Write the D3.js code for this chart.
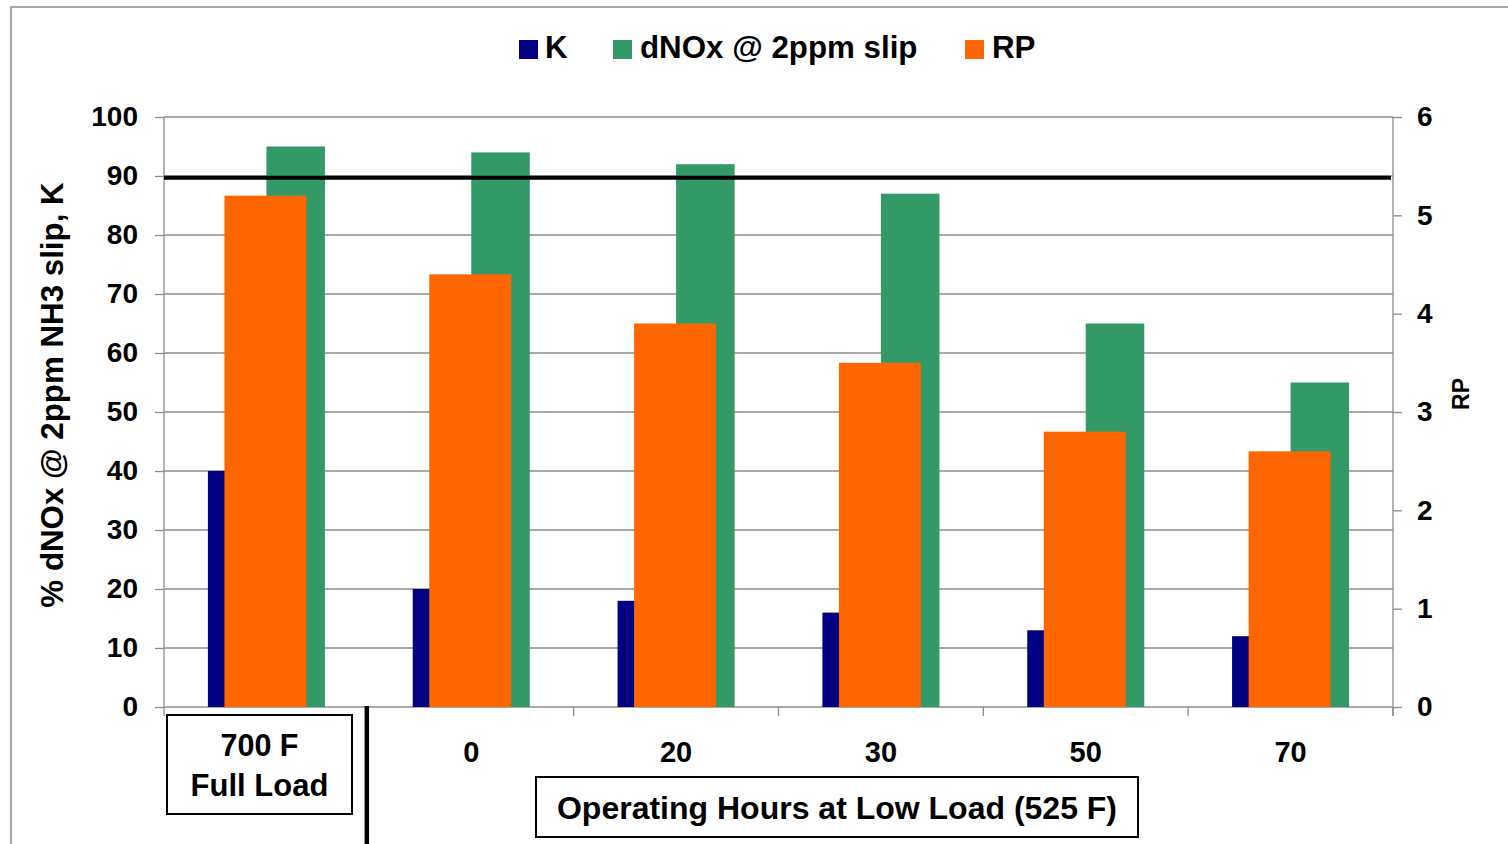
<!DOCTYPE html>
<html>
<head>
<meta charset="utf-8">
<script src="https://cdn.jsdelivr.net/npm/d3@7"></script>
<style>
  html, body { margin: 0; padding: 0; background: #fff; }
  svg { display: block; font-family: "Liberation Sans", Arial, sans-serif; font-weight: bold; }
</style>
</head>
<body>
<svg id="chart" width="1508" height="844"></svg>
<script>
// Categories: full-load reference point, then operating hours at low load
const categories = ["Full Load", "0", "20", "30", "50", "70"];
const categoryLabels = ["", "0", "20", "30", "50", "70"];

// Series values
const kValues    = [40, 20, 18, 16, 13, 12];
const dnoxValues = [95, 94, 92, 87, 65, 55];
const rpValues   = [5.2, 4.4, 3.9, 3.5, 2.8, 2.6];

// Target level for dNOx (%)
const targetLevel = 89.7;

// Axis ticks
const leftTicks  = [0, 10, 20, 30, 40, 50, 60, 70, 80, 90, 100];
const rightTicks = [0, 1, 2, 3, 4, 5, 6];

const colors = { k: "#000080", dnox: "#339966", rp: "#FF6600" };

const svg = d3.select("#chart");

const plot = { left: 164, right: 1393, top: 117, bottom: 707 };

const x = d3.scaleBand().domain(categories).range([plot.left, plot.right]).paddingInner(0).paddingOuter(0);
const yL = d3.scaleLinear().domain([0, 100]).range([plot.bottom, plot.top]);
const yR = d3.scaleLinear().domain([0, 6]).range([plot.bottom, plot.top]);

// Primary (clustered K + dNOx) and secondary (RP) bar positions within each category
const xPrimary = d3.scaleBand().domain(["k", "dnox"]).range([0, x.bandwidth()]).paddingInner(0).paddingOuter(0.75);
const xSecondary = d3.scaleBand().domain(["rp"]).range([0, x.bandwidth()]).paddingInner(0).paddingOuter(0.75);

// Outer chart frame
svg.append("path")
  .attr("d", "M11,850V7H1510")
  .attr("fill", "none").attr("stroke", "#a6a6a6").attr("stroke-width", 2);

// Gridlines
svg.append("g").selectAll("line")
  .data(leftTicks.filter(d => d > 0))
  .join("line")
  .attr("x1", plot.left).attr("x2", plot.right)
  .attr("y1", d => yL(d)).attr("y2", d => yL(d))
  .attr("stroke", "#8c8c8c").attr("stroke-width", 1.3);

// Left axis
const gLeft = svg.append("g").attr("transform", `translate(${plot.left},0)`)
  .call(d3.axisLeft(yL).tickValues(leftTicks).tickSize(9).tickPadding(17).tickFormat(d3.format("d")));
// Right axis
const gRight = svg.append("g").attr("transform", `translate(${plot.right},0)`)
  .call(d3.axisRight(yR).tickValues(rightTicks).tickSize(9).tickPadding(15).tickFormat(d3.format("d")));

[gLeft, gRight].forEach(g => {
  g.select(".domain").attr("stroke", "#8c8c8c").attr("stroke-width", 1.3);
  g.selectAll(".tick line").attr("stroke", "#8c8c8c").attr("stroke-width", 1.3);
  g.selectAll(".tick text")
    .attr("font-size", 28).attr("font-weight", "bold")
    .attr("font-family", "'Liberation Sans', Arial, sans-serif")
    .attr("fill", "#000");
});
gLeft.select(".domain").attr("d", `M0,${plot.top}V${plot.bottom + 9}`);
gRight.select(".domain").attr("d", `M0,${plot.top}V${plot.bottom + 9}`);

// Bottom category axis line and tick marks
svg.append("line")
  .attr("x1", plot.left).attr("x2", plot.right)
  .attr("y1", plot.bottom).attr("y2", plot.bottom)
  .attr("stroke", "#8c8c8c").attr("stroke-width", 1.3);
svg.append("g").selectAll("line")
  .data(categories.slice(1))
  .join("line")
  .attr("x1", d => x(d) + x.bandwidth()).attr("x2", d => x(d) + x.bandwidth())
  .attr("y1", plot.bottom).attr("y2", plot.bottom + 9)
  .attr("stroke", "#8c8c8c").attr("stroke-width", 1.3);

// Bars: K and dNOx on the primary axis
const rows = categories.map((c, i) => ({ c, k: kValues[i], dnox: dnoxValues[i], rp: rpValues[i] }));

svg.append("g").selectAll("rect")
  .data(rows).join("rect")
  .attr("x", d => x(d.c) + xPrimary("k"))
  .attr("width", xPrimary.bandwidth())
  .attr("y", d => yL(d.k))
  .attr("height", d => yL(0) - yL(d.k))
  .attr("fill", colors.k);

svg.append("g").selectAll("rect")
  .data(rows).join("rect")
  .attr("x", d => x(d.c) + xPrimary("dnox"))
  .attr("width", xPrimary.bandwidth())
  .attr("y", d => yL(d.dnox))
  .attr("height", d => yL(0) - yL(d.dnox))
  .attr("fill", colors.dnox);

// RP on the secondary axis, drawn over the primary bars
svg.append("g").selectAll("rect")
  .data(rows).join("rect")
  .attr("x", d => x(d.c) + xSecondary("rp") - 1)
  .attr("width", xSecondary.bandwidth())
  .attr("y", d => yR(d.rp))
  .attr("height", d => yR(0) - yR(d.rp))
  .attr("fill", colors.rp);

// Target line
svg.append("line")
  .attr("x1", plot.left).attr("x2", plot.right - 2)
  .attr("y1", yL(targetLevel)).attr("y2", yL(targetLevel))
  .attr("stroke", "#000").attr("stroke-width", 4);

// Category labels
svg.append("g").selectAll("text")
  .data(categories.map((c, i) => ({ c, label: categoryLabels[i] })).filter(d => d.label))
  .join("text")
  .attr("x", d => x(d.c) + x.bandwidth() / 2)
  .attr("y", 762)
  .attr("text-anchor", "middle")
  .attr("font-size", 29)
  .text(d => d.label);

// Separator between full-load point and low-load series
const sepX = x(categories[0]) + x.bandwidth() - 2;
svg.append("line")
  .attr("x1", sepX).attr("x2", sepX)
  .attr("y1", plot.bottom - 1).attr("y2", 850)
  .attr("stroke", "#000").attr("stroke-width", 4.5);

// Full-load label box
const fullBox = svg.append("g");
fullBox.append("rect")
  .attr("x", 167).attr("y", 715).attr("width", 185).attr("height", 99)
  .attr("fill", "#fff").attr("stroke", "#000").attr("stroke-width", 2);
fullBox.append("text").attr("x", 259.5).attr("y", 756).attr("text-anchor", "middle")
  .attr("font-size", 30.5).text("700 F");
fullBox.append("text").attr("x", 259.5).attr("y", 796).attr("text-anchor", "middle")
  .attr("font-size", 31).text("Full Load");

// Low-load axis title box
const hoursBox = svg.append("g");
hoursBox.append("rect")
  .attr("x", 536).attr("y", 777).attr("width", 602).attr("height", 60)
  .attr("fill", "#fff").attr("stroke", "#000").attr("stroke-width", 2);
hoursBox.append("text").attr("x", 837).attr("y", 819).attr("text-anchor", "middle")
  .attr("font-size", 32).text("Operating Hours at Low Load (525 F)");

// Axis titles
svg.append("text")
  .attr("transform", "translate(63,395) rotate(-90)")
  .attr("text-anchor", "middle")
  .attr("font-size", 31.3)
  .text("% dNOx @ 2ppm NH3 slip, K");
svg.append("text")
  .attr("transform", "translate(1469,394) rotate(-90)")
  .attr("text-anchor", "middle")
  .attr("font-size", 23)
  .text("RP");

// Legend
const legendItems = [
  { label: "K", color: colors.k, sx: 519, tx: 545 },
  { label: "dNOx @ 2ppm slip", color: colors.dnox, sx: 613, tx: 640 },
  { label: "RP", color: colors.rp, sx: 965, tx: 992 }
];
const legend = svg.append("g");
legend.selectAll("rect").data(legendItems).join("rect")
  .attr("x", d => d.sx).attr("y", 40).attr("width", 19).attr("height", 19)
  .attr("fill", d => d.color);
legend.selectAll("text").data(legendItems).join("text")
  .attr("x", d => d.tx).attr("y", 58)
  .attr("font-size", 31.3)
  .text(d => d.label);
</script>
</body>
</html>
